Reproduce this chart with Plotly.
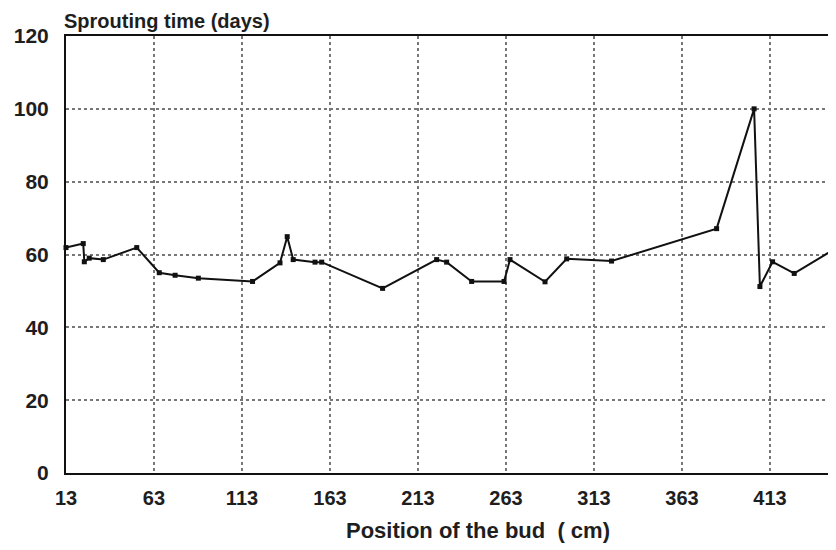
import plotly.graph_objects as go

# Data
bud_position_cm = [13, 22.8, 23.4, 26.2, 34.2, 53.2, 66, 75, 88.2, 119, 134.6, 138.7,
                   142.1, 154.5, 158.3, 192.9, 223.6, 229.3, 243.5, 261.9, 265.3,
                   285.2, 297.5, 323, 382.7, 404, 407.3, 414.5, 426.8, 449.4]
sprouting_days = [61.9, 63, 58, 59, 58.6, 61.9, 55, 54.3, 53.5, 52.6, 57.7, 64.9,
                  58.6, 57.9, 57.9, 50.7, 58.6, 57.9, 52.6, 52.6, 58.6,
                  52.5, 58.8, 58.2, 67.1, 100, 51.2, 58, 54.8, 61.4]

x_ticks = [13, 63, 113, 163, 213, 263, 313, 363, 413]
y_ticks = [0, 20, 40, 60, 80, 100, 120]

FONT = "Liberation Sans"
INK = "#1e1e1e"

fig = go.Figure()
fig.add_trace(go.Scatter(
    x=bud_position_cm, y=sprouting_days, mode="lines+markers",
    line=dict(color="#111111", width=2),
    marker=dict(symbol="square", size=5, color="#111111"),
    showlegend=False, cliponaxis=False,
))

fig.update_layout(
    width=836, height=550,
    margin=dict(l=58, r=10, t=28, b=85),
    paper_bgcolor="white", plot_bgcolor="white",
    font=dict(family=FONT, color=INK),
    xaxis=dict(
        range=[13, 449.4], tickvals=x_ticks, ticktext=[str(v) for v in x_ticks],
        showgrid=True, gridcolor="#777777", griddash="dot", gridwidth=1.5,
        zeroline=False, showline=True, linecolor="#111111", linewidth=2,
        mirror=True, ticks="", ticklabelstandoff=6, automargin=False,
        tickfont=dict(family=FONT, size=20, color=INK, weight="bold"),
    ),
    yaxis=dict(
        range=[0, 120], tickvals=y_ticks, ticktext=[str(v) for v in y_ticks],
        showgrid=True, gridcolor="#777777", griddash="dot", gridwidth=1.5,
        zeroline=False, showline=True, linecolor="#111111", linewidth=2,
        mirror=True, ticks="", ticklabelstandoff=11, automargin=False,
        tickfont=dict(family=FONT, size=21, color=INK, weight="bold"),
    ),
    annotations=[
        dict(text="Sprouting time (days)", xref="paper", yref="paper",
             x=0, y=1, xanchor="left", yanchor="middle", yshift=15, xshift=-3,
             showarrow=False, borderpad=0,
             font=dict(family=FONT, size=20, color=INK, weight="bold")),
        dict(text="Position of the bud  ( cm)", xref="paper", yref="paper",
             x=(478 - 66) / (834 - 66), y=0, xanchor="center", yanchor="middle",
             yshift=-57, showarrow=False,
             font=dict(family=FONT, size=22, color=INK, weight="bold")),
    ],
)

fig.write_html("out.html")
